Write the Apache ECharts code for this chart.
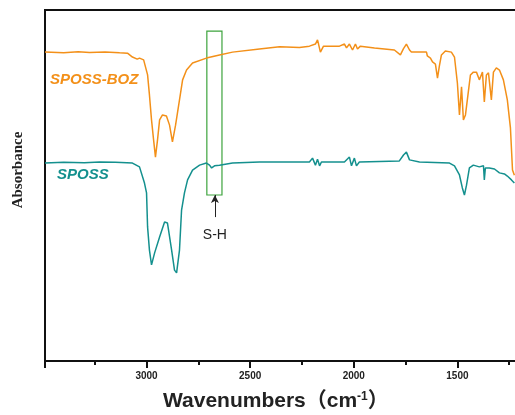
<!DOCTYPE html>
<html>
<head>
<meta charset="utf-8">
<script src="https://cdn.jsdelivr.net/npm/echarts@6/dist/echarts.min.js"></script>
<style>html,body{margin:0;padding:0;background:#fff;}#c{width:515px;height:415px;}</style>
</head>
<body>
<div id="c"></div>
<script>
// Wavenumber (cm-1) and absorbance (arb. units)
const wnBOZ = [3490,3400,3330,3275,3200,3130,3092,3068,3045,3034,3014,2995,2986,2976,2966,2957,2947,2937,2923,2904,2889,2875,2860,2841,2826,2807,2778,2711,2648,2585,2455,2358,2262,2214,2185,2175,2170,2161,2146,2069,2045,2035,2021,2006,1992,1982,1968,1900,1804,1775,1760,1746,1731,1722,1649,1645,1630,1620,1606,1596,1587,1577,1558,1529,1514,1500,1490,1480,1471,1461,1452,1437,1423,1408,1394,1379,1370,1360,1350,1336,1326,1312,1297,1278,1259,1244,1234,1225];
const absBOZ = [88.0,87.8,88.1,87.9,88.0,87.8,87.7,86.6,86.0,86.3,85.8,81.5,75.8,68.7,63.0,58.1,63.0,68.7,70.1,69.8,67.2,62.4,67.2,74.4,80.1,82.9,84.9,86.3,87.2,88.0,88.9,89.5,89.3,89.7,90.3,91.5,90.3,88.0,89.7,89.7,90.3,89.2,90.3,88.6,90.3,88.9,89.7,89.2,88.6,87.2,89.0,90.3,88.6,88.0,88.0,86.9,86.3,85.2,84.6,80.6,84.0,87.2,88.3,88.0,86.6,79.2,70.1,78.1,68.7,70.1,74.4,81.5,82.3,82.3,80.1,82.3,73.8,81.5,82.1,74.4,82.3,83.5,82.9,80.1,74.4,66.4,54.4,52.9];

const wnSPOSS = [3490,3400,3300,3227,3150,3068,3034,3010,3000,2995,2986,2976,2961,2937,2913,2899,2879,2865,2855,2841,2831,2817,2802,2778,2744,2711,2696,2686,2672,2648,2585,2455,2262,2214,2199,2185,2175,2165,2156,2045,2021,2011,1997,1987,1973,1780,1760,1746,1731,1683,1538,1514,1490,1476,1466,1456,1442,1423,1394,1374,1370,1365,1346,1321,1297,1273,1259,1239,1225];
const absSPOSS = [56.4,56.6,56.5,56.7,56.6,56.4,55.3,50.7,47.9,38.2,31.6,27.4,30.8,35.3,39.6,39.3,31.6,25.9,25.1,31.6,43.0,47.9,51.6,54.4,55.8,56.4,55.8,55.0,55.6,55.8,56.4,56.7,56.7,56.7,57.8,55.8,57.5,55.6,56.7,56.7,58.1,55.6,57.8,55.6,56.7,57.0,58.7,59.5,57.3,56.7,56.4,55.6,53.0,49.3,47.3,50.1,55.0,55.8,55.3,55.6,51.6,55.0,55.0,54.7,53.6,53.3,52.7,51.6,50.7];

const seriesNames = ['SPOSS-BOZ', 'SPOSS'];
const tickLabels = [3000, 2500, 2000, 1500];
// S-H annotation: box [wn1, a1, wn2, a2], arrow [wn, aFrom, aTo], label [wn, a]
const shBox = [2709, 94.0, 2636, 47.3];
const shArrow = [2670, 41.0, 47.3];
const shLabel = [2670, 35.9];

const zip = (xs, ys) => xs.map((x, i) => [x, ys[i]]);

const chart = echarts.init(document.getElementById('c'), null, {renderer: 'canvas'});
chart.setOption({
  animation: false,
  backgroundColor: '#fff',
  grid: {left: 45, top: 10, right: -46, bottom: 54, outerBoundsMode: 'none', containLabel: false,
         show: true, borderColor: '#111', borderWidth: 2, backgroundColor: 'transparent'},
  xAxis: {
    type: 'value', inverse: true, min: 1000, max: 3490, interval: 500,
    axisLine: {lineStyle: {color: '#111', width: 2}},
    axisTick: {show: true, length: 7, lineStyle: {color: '#111', width: 2}},
    minorTick: {show: true, splitNumber: 2, length: 4, lineStyle: {color: '#111', width: 2}},
    splitLine: {show: false},
    axisLabel: {
      margin: 10, fontSize: 10, fontWeight: 'bold', color: '#222',
      fontFamily: 'Liberation Sans, Arial, sans-serif',
      formatter: v => tickLabels.includes(v) ? String(v) : ''
    }
  },
  yAxis: {
    type: 'value', min: 0, max: 100,
    axisLine: {show: true, lineStyle: {color: '#111', width: 2}},
    axisTick: {show: false}, axisLabel: {show: false}, splitLine: {show: false}
  },
  series: [
    {
      name: seriesNames[0], type: 'line', data: zip(wnBOZ, absBOZ), showSymbol: false,
      lineStyle: {color: '#F39019', width: 1.5}, itemStyle: {color: '#F39019'}
    },
    {
      name: seriesNames[1], type: 'line', data: zip(wnSPOSS, absSPOSS), showSymbol: false,
      lineStyle: {color: '#14908E', width: 1.5}, itemStyle: {color: '#14908E'},
      markArea: {
        silent: true,
        itemStyle: {color: 'rgba(0,0,0,0)', borderColor: '#3DA33D', borderWidth: 1.2},
        data: [[{coord: [shBox[0], shBox[1]]}, {coord: [shBox[2], shBox[3]]}]]
      },
      markLine: {
        silent: true, symbol: ['none', 'arrow'], symbolSize: [6, 8],
        lineStyle: {color: '#222', width: 1, type: 'solid'},
        label: {show: false},
        data: [[{coord: [shArrow[0], shArrow[1]]}, {coord: [shArrow[0], shArrow[2]]}]]
      },
      markPoint: {
        silent: true, symbol: 'circle', symbolSize: 1,
        itemStyle: {color: 'rgba(0,0,0,0)'},
        label: {show: true, position: 'inside', formatter: 'S-H', fontSize: 14, color: '#222', fontFamily: 'Liberation Sans, Arial, sans-serif'},
        data: [{coord: shLabel}]
      }
    }
  ],
  graphic: [
    {type: 'text', left: 50, top: 72, style: {text: seriesNames[0], fill: '#F39019', font: 'italic bold 15px "Liberation Sans", Arial, sans-serif'}},
    {type: 'text', left: 57, top: 167, style: {text: seriesNames[1], fill: '#14908E', font: 'italic bold 15px "Liberation Sans", Arial, sans-serif'}},
    {type: 'text', x: 18, y: 170, rotation: Math.PI / 2, style: {
      text: 'Absorbance', fill: '#222', align: 'center', verticalAlign: 'middle',
      font: 'bold 15px "Liberation Serif", "Times New Roman", serif'
    }},
    {type: 'text', left: 163, top: 391, style: {
      text: 'Wavenumbers（cm{sup|-1}）', fill: '#222',
      font: 'bold 21px "Liberation Sans", Arial, "Noto Sans CJK SC", sans-serif',
      rich: {sup: {fontSize: 12, fontWeight: 'bold', verticalAlign: 'top', fill: '#222', fontFamily: 'Liberation Sans, Arial, sans-serif'}}
    }}
  ]
});
</script>
</body>
</html>
